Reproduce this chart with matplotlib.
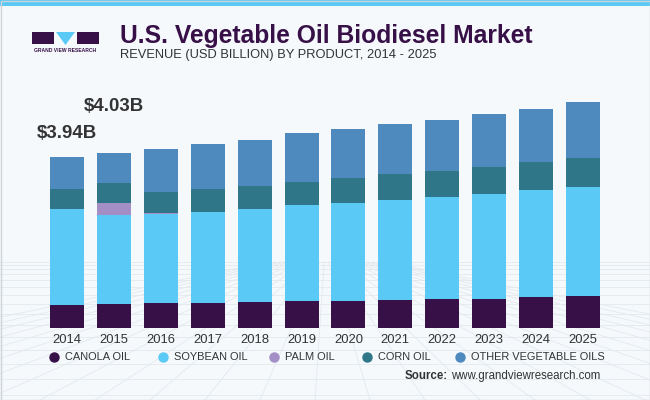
import matplotlib.pyplot as plt
from matplotlib.patches import Rectangle, Polygon
from matplotlib.lines import Line2D
import numpy as np

years = [str(y) for y in range(2014, 2026)]
canola = [0.53, 0.55, 0.58, 0.58, 0.60, 0.62, 0.62, 0.65, 0.67, 0.67, 0.71, 0.74]
soybean = [2.21, 2.05, 2.05, 2.10, 2.14, 2.21, 2.27, 2.30, 2.35, 2.42, 2.47, 2.51]
palm = [0.00, 0.28, 0.02, 0.00, 0.00, 0.00, 0.00, 0.00, 0.00, 0.00, 0.00, 0.00]
corn = [0.46, 0.46, 0.48, 0.53, 0.53, 0.53, 0.58, 0.60, 0.60, 0.62, 0.65, 0.67]
other = [0.74, 0.69, 0.99, 1.04, 1.08, 1.13, 1.13, 1.15, 1.17, 1.22, 1.22, 1.29]
labels = {0: "$3.94B", 1: "$4.03B"}

series = [
    ("CANOLA OIL", canola, "#381048"),
    ("SOYBEAN OIL", soybean, "#5bc9f6"),
    ("PALM OIL", palm, "#a38fc6"),
    ("CORN OIL", corn, "#2e7688"),
    ("OTHER VEGETABLE OILS", other, "#4e8abd"),
]

plt.rcParams['font.family'] = ['Liberation Sans', 'DejaVu Sans']
BG = "#f5f9fc"
TXT = "#333333"
W, H = 650, 400

fig = plt.figure(figsize=(6.5, 4), dpi=100, facecolor=BG)


def fx(x):
    return x / W


def fy(y):
    return 1 - y / H


def fit_text(t, width_px):
    r = fig.canvas.get_renderer()
    w = t.get_window_extent(r).width
    t.set_fontsize(t.get_fontsize() * width_px / w)
    return t.get_fontsize()


# faint perspective mesh in the background (decoration only)
mesh = "#e4e9ee"
for y in [262, 265, 269, 274, 280, 287, 295, 304, 314, 325, 337, 350, 364, 379, 395]:
    fig.add_artist(Line2D([0, 1], [fy(y), fy(y)], color=mesh, lw=0.6,
                          transform=fig.transFigure, zorder=0))
for xb in np.arange(-400, 1100, 55):
    fig.add_artist(Line2D([fx(325 + (xb - 325) * 0.08), fx(xb)], [fy(262), fy(400)], color=mesh,
                          lw=0.6, transform=fig.transFigure, zorder=0))

# frame and top stripe
fig.patches.append(Rectangle((0, fy(6)), 1, 6 / H, transform=fig.transFigure,
                             facecolor="#5bc9f6", edgecolor="none"))
fig.patches.append(Rectangle((0.5 / W, 0.5 / H), 1 - 1 / W, 1 - 1 / H, transform=fig.transFigure,
                             facecolor="none", edgecolor="#cfd4d8", lw=1))

# logo
logo = "#381048"
fig.patches.append(Rectangle((fx(32), fy(44)), 22 / W, 12 / H, transform=fig.transFigure,
                             facecolor=logo, edgecolor="none"))
fig.patches.append(Rectangle((fx(77), fy(44)), 22 / W, 12 / H, transform=fig.transFigure,
                             facecolor=logo, edgecolor="none"))
fig.patches.append(Polygon([(fx(56), fy(32)), (fx(75), fy(32)), (fx(65.5), fy(45))],
                           closed=True, transform=fig.transFigure, facecolor="#5bc9f6",
                           edgecolor="none"))
fig.text(fx(65.5), fy(50.5), "GRAND VIEW RESEARCH", ha="center", va="center",
         fontsize=3.6, weight="bold", color=logo)

# titles
t1 = fig.text(fx(120), fy(36), "U.S. Vegetable Oil Biodiesel Market", ha="left", va="center",
              fontsize=18, weight="bold", color="#381048")
t2 = fig.text(fx(120), fy(55), "REVENUE (USD BILLION) BY PRODUCT, 2014 - 2025", ha="left",
              va="center", fontsize=10, color=TXT)
fit_text(t1, 411)
fit_text(t2, 318)

# chart
ax = fig.add_axes([fx(43.5), 72 / H, 563 / W, 260 / H])
ax.set_facecolor("none")
x = np.arange(len(years))
bottom = np.zeros(len(years))
for name, vals, col in series:
    vals = np.array(vals)
    ax.bar(x, vals, 0.725, bottom=bottom, color=col, edgecolor="none", zorder=2)
    bottom += vals

for i, txt in labels.items():
    off = 0.55 if i == 0 else 1.08
    ax.text(x[i], bottom[i] + off, txt, ha="center", va="center", fontsize=13.4,
            weight="bold", color=TXT)

ax.set_xlim(-0.5, len(years) - 0.5)
ax.set_ylim(0, 6)
ax.set_xticks(x)
ax.set_xticklabels(years, fontsize=9.4, color=TXT)
ax.set_yticks([])
ax.tick_params(axis="x", length=0, pad=4)
for s in ax.spines.values():
    s.set_visible(False)

# legend
leg_x = [54, 163, 274, 367, 460]
leg_texts = []
for (name, vals, col), lx in zip(series, leg_x):
    fig.add_artist(Line2D([fx(lx)], [fy(357)], marker="o", markersize=6.5, color=col,
                          linestyle="none", transform=fig.transFigure))
    leg_texts.append(fig.text(fx(lx + 11), fy(357), name, ha="left", va="center",
                              fontsize=10, color=TXT))
fs = fit_text(leg_texts[0], 65)
for t in leg_texts[1:]:
    t.set_fontsize(fs)

# source
src = fig.text(fx(600), fy(376), "www.grandviewresearch.com", ha="right", va="center",
               fontsize=10, color=TXT)
fit_text(src, 150)
r = fig.canvas.get_renderer()
sx = src.get_window_extent(r).x0
fig.text(sx - 3, fy(376) * H, "Source:", ha="right", va="center", fontsize=src.get_fontsize(),
         weight="bold", color=TXT, transform=None)

fig.savefig("out.png", dpi=100, facecolor=BG)
